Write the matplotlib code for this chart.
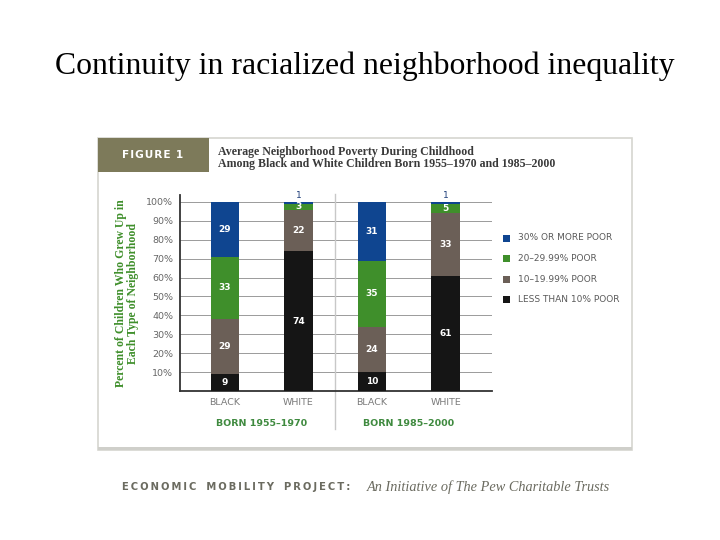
import matplotlib.pyplot as plt
from matplotlib.patches import Rectangle
import numpy as np

# data (percent of children), bottom to top
bars = ['BLACK', 'WHITE', 'BLACK', 'WHITE']
groups = ['BORN 1955\u20131970', 'BORN 1985\u20132000']
less10 = [9, 74, 10, 61]
p10_19 = [29, 22, 24, 33]
p20_29 = [33, 3, 35, 5]
p30 = [29, 1, 31, 1]
series_names = ['LESS THAN 10% POOR', '10\u201319.99% POOR', '20\u201329.99% POOR', '30% OR MORE POOR']
colors = ['#151515', '#6b5f57', '#3f8f2b', '#0f4590']

W, H = 720, 540
fig = plt.figure(figsize=(7.2, 5.4), dpi=100)
fig.patch.set_facecolor('white')

def fx(px):
    return px / W

def fy(py):
    return 1 - py / H

# slide title
fig.text(fx(365), fy(66), 'Continuity in racialized neighborhood inequality',
         family='Liberation Serif', fontsize=22.9, ha='center', va='center', color='black')

# outer frame of the figure panel
fig.add_artist(Rectangle((fx(98), fy(450)), fx(632) - fx(98), fy(138) - fy(450),
                         transform=fig.transFigure, fill=False, edgecolor='#d6d6d0', lw=1.2))
fig.add_artist(Rectangle((fx(98), fy(450)), fx(632) - fx(98), 3 / H,
                         transform=fig.transFigure, color='#cfcfca', lw=0))
fig.add_artist(Rectangle((fx(98), fy(172)), fx(209) - fx(98), fy(138) - fy(172),
                         transform=fig.transFigure, color='#7d7a5a', lw=0))
fig.text(fx(153), fy(155), '\u200a'.join('FIGURE') + '\u2002' + '1',
         family='DejaVu Sans', fontweight='bold',
         fontsize=7.6, color='white', ha='center', va='center')
fig.text(fx(218), fy(158), 'Average Neighborhood Poverty During Childhood\n'
         'Among Black and White Children Born 1955\u20131970 and 1985\u20132000',
         family='Liberation Serif', fontweight='bold', fontsize=8.6, color='#3a3a3a',
         ha='left', va='center', linespacing=1.05)

# main chart axes
ax = fig.add_axes([fx(180), fy(391), fx(492) - fx(180), fy(195) - fy(391)])
x = np.arange(len(bars))
width = 0.39
bottom = np.zeros(len(bars))
for vals, c in zip([less10, p10_19, p20_29, p30], colors):
    ax.bar(x, vals, width, bottom=bottom, color=c, edgecolor='none', zorder=3)
    for xi, v, b in zip(x, vals, bottom):
        if v >= 3:
            ax.text(xi, b + v / 2, str(v), ha='center', va='center', color='white',
                    fontsize=6.5, fontweight='bold', family='DejaVu Sans', zorder=4)
        else:
            ax.text(xi, b + v + 0.8, str(v), ha='center', va='bottom', color='#1f3f7a',
                    fontsize=6.5, family='DejaVu Sans', zorder=4)
    bottom += np.array(vals)

ax.set_xlim(-0.61, 3.63)
ax.set_ylim(0, 103.7)
ax.set_yticks(np.arange(10, 101, 10))
ax.set_yticklabels([f'{t}%' for t in range(10, 101, 10)], family='DejaVu Sans',
                   fontsize=6.8, color='#666666')
ax.yaxis.grid(True, color='#9a9a9a', lw=0.7, zorder=0)
ax.tick_params(axis='y', length=0, pad=5)
ax.set_xticks(x)
ax.set_xticklabels(bars, family='DejaVu Sans', fontsize=6.8, color='#7a7a7a')
ax.tick_params(axis='x', length=0, pad=5)
for s in ['top', 'right']:
    ax.spines[s].set_visible(False)
ax.spines['left'].set_color('#333333')
ax.spines['left'].set_linewidth(1.3)
ax.spines['bottom'].set_color('#333333')
ax.spines['bottom'].set_linewidth(1.3)
ax.set_facecolor('none')

# group separator and group labels
ax.plot([1.5, 1.5], [-20, 104], color='#c8c8c8', lw=1, clip_on=False)
for gi, g in enumerate(groups):
    ax.text(gi * 2 + 0.5, -17, g, ha='center', va='center', color='#3f8a3f',
            fontsize=6.8, fontweight='bold', family='DejaVu Sans')

ax.set_ylabel('Percent of Children Who Grew Up in\nEach Type of Neighborhood',
              family='Liberation Serif', fontweight='bold', fontsize=8.5,
              color='#3f8f2b', linespacing=1.0, labelpad=5)

# legend
for i, (name, c) in enumerate(zip(series_names[::-1], colors[::-1])):
    yy = fy(238 + i * 20.5)
    fig.add_artist(Rectangle((fx(503), yy - 3.5 / H), 7 / W, 7 / H,
                             transform=fig.transFigure, color=c, lw=0))
    fig.text(fx(518), yy, name, family='DejaVu Sans', fontsize=6.5,
             color='#5a5a5a', ha='left', va='center')

# footer
footer = '\u2009'.join('ECONOMIC MOBILITY PROJECT:').replace('\u2009 \u2009', '\u2003')
fig.text(fx(122), fy(487), footer, family='DejaVu Sans', fontweight='bold',
         fontsize=7.2, color='#6b6b60', ha='left', va='center')
fig.text(fx(610), fy(487), 'An Initiative of The Pew Charitable Trusts',
         family='Liberation Serif', style='italic', fontsize=10.3, color='#6b6b60',
         ha='right', va='center')

fig.savefig('out.png', dpi=100)
